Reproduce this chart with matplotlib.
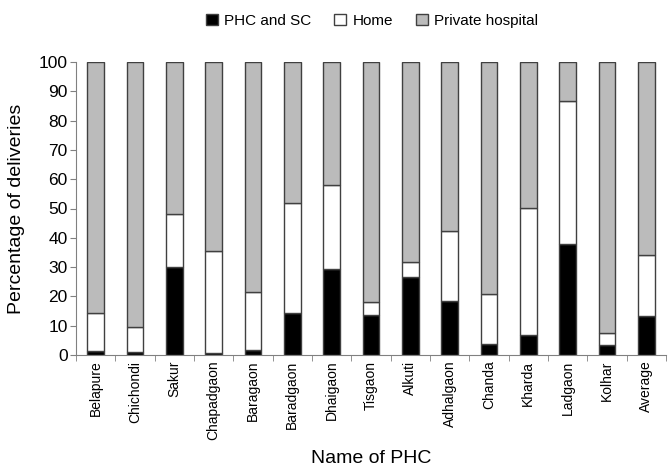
import numpy as np
import matplotlib
matplotlib.use('Agg')
import matplotlib.pyplot as plt
from matplotlib.ticker import FixedLocator

plt.rcParams['font.family'] = ['Liberation Sans', 'DejaVu Sans']

phc = ['Belapure', 'Chichondi', 'Sakur', 'Chapadgaon', 'Baragaon', 'Baradgaon',
       'Dhaigaon', 'Tisgaon', 'Alkuti', 'Adhalgaon', 'Chanda', 'Kharda',
       'Ladgaon', 'Kolhar', 'Average']
phc_sc = [1.4, 1.1, 30.0, 0.6, 1.7, 14.2, 29.2, 13.8, 26.7, 18.5, 3.6, 6.7, 38.0, 3.3, 13.2]
home = [13.0, 8.6, 18.2, 34.8, 19.9, 37.6, 28.9, 4.4, 5.1, 23.9, 17.1, 43.5, 48.6, 4.3, 21.0]
private = [100 - a - b for a, b in zip(phc_sc, home)]

fig = plt.figure(figsize=(6.68, 4.67), dpi=100)
ax = fig.add_axes([76/668, 1 - 355/467, 590/668, 293/467])

x = np.arange(len(phc))
w = 0.42
ec = '#404040'
ax.bar(x, phc_sc, w, color='black', edgecolor=ec, linewidth=1, label='PHC and SC')
ax.bar(x, home, w, bottom=phc_sc, color='white', edgecolor=ec, linewidth=1, label='Home')
ax.bar(x, private, w, bottom=np.add(phc_sc, home), color='#bbbbbb', edgecolor=ec,
       linewidth=1, label='Private hospital')

ax.set_xlim(-0.5, len(phc) - 0.5)
ax.set_ylim(0, 100)
ax.set_yticks(range(0, 101, 10))
ax.tick_params(axis='y', labelsize=12.5, length=4, pad=2, color='#808080')
ax.set_xticks(x)
ax.set_xticklabels(phc, rotation=90, fontsize=10, fontstretch='condensed')
ax.tick_params(axis='x', which='major', length=0, pad=4)
ax.xaxis.set_minor_locator(FixedLocator(np.arange(-0.5, len(phc), 1.0)))
ax.tick_params(axis='x', which='minor', length=4, color='#808080')

for s in ['top', 'right']:
    ax.spines[s].set_visible(False)
ax.spines['left'].set_color('#808080')
ax.spines['bottom'].set_color('#808080')

ax.set_ylabel('Percentage of deliveries', fontsize=14)
ax.yaxis.set_label_coords(-0.087, 0.5)
ax.set_xlabel('Name of PHC', fontsize=14)
ax.xaxis.set_label_coords(0.5, -0.325)

fig.legend(loc='upper center', bbox_to_anchor=(372/668, 1.0), ncol=3, frameon=False,
           fontsize=11, handlelength=0.8, handleheight=0.8, handletextpad=0.4,
           columnspacing=1.5)

plt.savefig('out.png', dpi=100)
